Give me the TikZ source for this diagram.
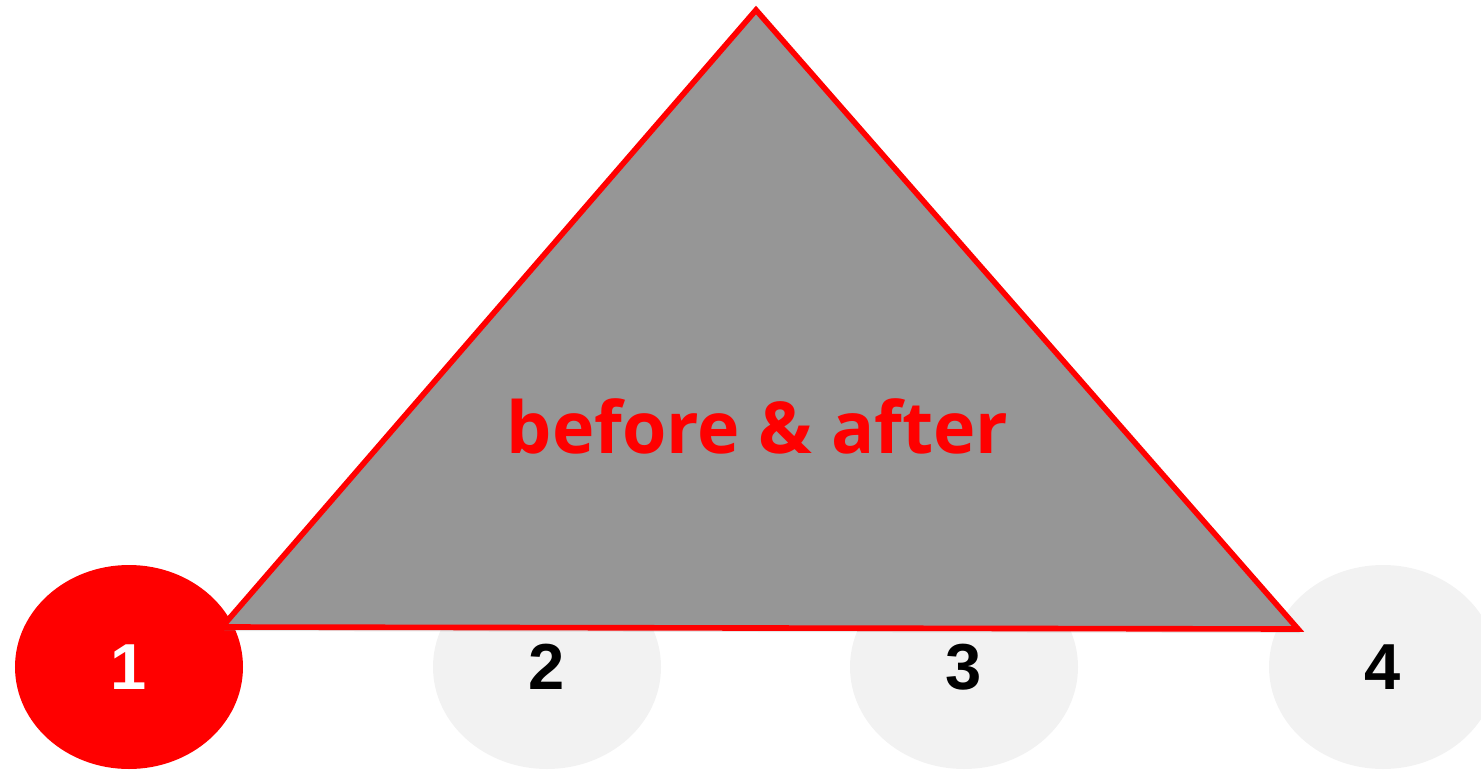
\documentclass[tikz,border=0pt]{standalone}
\usepackage{fontspec}
\setmainfont{Open Sans}
\newfontfamily\numfont{Liberation Sans}
\usetikzlibrary{shapes.geometric,shadows}
\definecolor{markred}{HTML}{FF0000}
\definecolor{pyramidgray}{HTML}{969696}
\definecolor{stepgray}{HTML}{F2F2F2}
\begin{document}
\begin{tikzpicture}[
  stage/.style={ellipse, minimum width=2.28cm, minimum height=2.04cm, inner sep=0pt,
    fill=stepgray, font=\numfont\bfseries\fontsize{18.5}{20}\selectfont},
  current/.style={stage, fill=markred, text=white},
  pyramid/.style={fill=pyramidgray, draw=markred, line width=1.6pt, line join=miter,
    drop shadow={shadow xshift=0.02cm, shadow yshift=-0.04cm, opacity=0.2}}
]
\useasboundingbox (0,0) rectangle (14.81,7.70);
\clip (0,0) rectangle (14.81,7.70);
% the four steps along the bottom
\node[current] (s1) at (1.29,1.03) {1};
\node[stage] (s2) at (5.47,1.03) {2};
\node[stage] (s3) at (9.64,1.03) {3};
\node[stage] (s4) at (13.83,1.03) {4};
% triangle over the steps
\coordinate (top) at (7.56,7.60);
\coordinate (left) at (2.22,1.43);
\coordinate (right) at (12.98,1.41);
\draw[pyramid] (top) -- (left) -- (right) -- cycle;
\node[text=markred, font=\bfseries\fontsize{20.4}{23}\selectfont, anchor=base] (label) at (7.575,3.17) {before \& after};
\end{tikzpicture}
\end{document}
